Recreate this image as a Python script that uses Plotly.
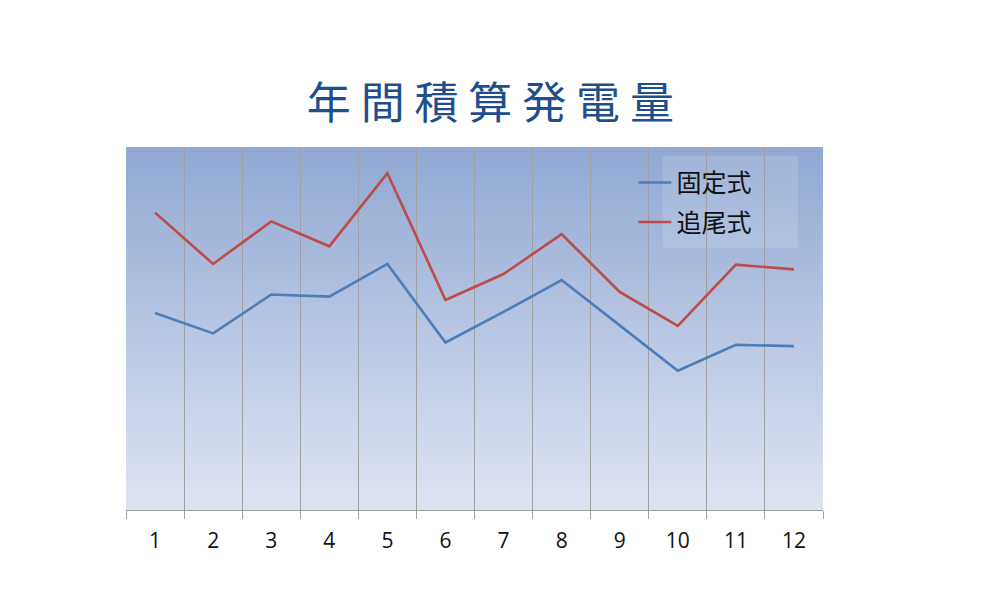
import plotly.graph_objects as go

# data (arbitrary units, y axis has no labels)
months = ['1', '2', '3', '4', '5', '6', '7', '8', '9', '10', '11', '12']
fixed = [760, 681, 831, 823, 949, 646, 764, 887, 712, 537, 637, 632]
tracking = [1147, 949, 1113, 1017, 1299, 810, 910, 1064, 841, 710, 946, 928]
series_names = ['固定式', '追尾式']
title_text = '年間積算発電量'

fig = go.Figure()
fig.add_trace(go.Scatter(x=months, y=fixed, mode='lines', name=series_names[0],
                         legendgroup='g1',
                         line=dict(color='#4a7ebb', width=2.6)))
fig.add_trace(go.Scatter(x=months, y=tracking, mode='lines', name=series_names[1],
                         legendgroup='g2',
                         line=dict(color='#be4b48', width=2.6)))

# vertical gradient for the plot area: nested bands from the bottom up,
# each later one shorter, so no seams show between them
top_c = (145, 168, 211)
bot_c = (222, 228, 242)
n = 91
shapes = []
for i in range(n):
    t = i / (n - 1)
    c = tuple(round(top_c[k] + (bot_c[k] - top_c[k]) * t) for k in range(3))
    shapes.append(dict(type='rect', xref='paper', yref='paper',
                       x0=0, x1=1, y0=0, y1=1 - i / n,
                       fillcolor='rgb(%d,%d,%d)' % c, line=dict(width=0),
                       layer='below'))
# lighter legend panel
shapes.append(dict(type='rect', xref='paper', yref='paper',
                   x0=0.770, x1=0.964, y0=0.7225, y1=0.975,
                   fillcolor='rgba(255,255,255,0.14)', line=dict(width=0),
                   layer='between'))

fig.update_layout(
    width=1007, height=606,
    margin=dict(l=118, r=192, t=139, b=104),
    paper_bgcolor='white', plot_bgcolor='rgba(0,0,0,0)',
    title=dict(text=' '.join(title_text), x=0.479, xanchor='center', y=0.843, yanchor='middle',
               font=dict(family='Noto Sans CJK JP', size=44, color='#1f4e8c')),
    shapes=shapes,
    showlegend=True,
    legend=dict(x=0.728, y=0.965, xanchor='left', yanchor='top',
                bgcolor='rgba(0,0,0,0)', borderwidth=0,
                font=dict(family='Noto Sans CJK JP', size=25, color='#111111'),
                tracegroupgap=4, itemwidth=33),
)
fig.update_xaxes(type='category', tickson='boundaries', showgrid=True,
                 gridcolor='#a0a0a0', gridwidth=1,
                 showline=True, linecolor='#a0a0a0', linewidth=1,
                 ticks='outside', ticklen=8, tickcolor='#a0a0a0',
                 ticklabelstandoff=12,
                 tickfont=dict(family='Open Sans', size=21, color='#111111'),
                 range=[-0.5, 11.5], fixedrange=True, zeroline=False)
fig.update_yaxes(range=[0, 1400], showgrid=False, showticklabels=False,
                 zeroline=False, showline=False, ticks='')

fig.write_html('out.html')
